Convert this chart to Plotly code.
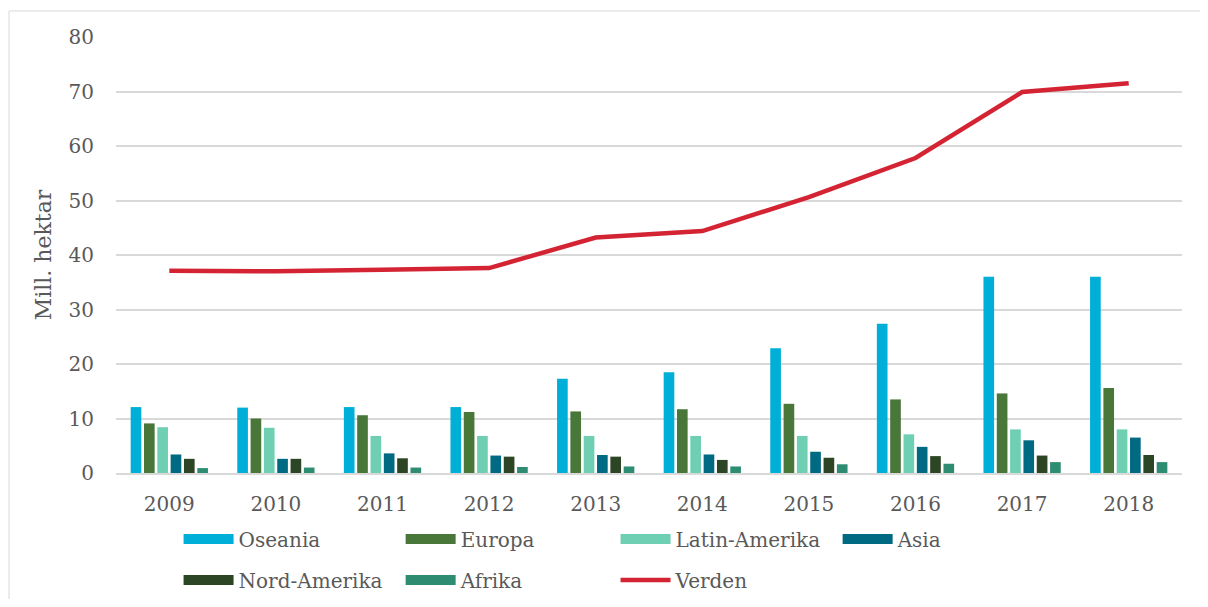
import plotly.graph_objects as go

years = ["2009", "2010", "2011", "2012", "2013", "2014", "2015", "2016", "2017", "2018"]
oseania = [12.1, 12.0, 12.1, 12.1, 17.3, 18.5, 22.9, 27.4, 36.0, 36.0]
europa = [9.1, 10.0, 10.6, 11.2, 11.3, 11.7, 12.7, 13.5, 14.6, 15.6]
latin_amerika = [8.4, 8.3, 6.8, 6.8, 6.8, 6.8, 6.8, 7.1, 8.0, 8.0]
asia = [3.4, 2.6, 3.6, 3.2, 3.3, 3.4, 3.9, 4.8, 6.0, 6.5]
nord_amerika = [2.6, 2.6, 2.7, 3.0, 3.0, 2.4, 2.8, 3.1, 3.2, 3.3]
afrika = [0.9, 1.0, 1.0, 1.1, 1.2, 1.2, 1.6, 1.7, 2.0, 2.0]
verden = [37.1, 37.0, 37.3, 37.6, 43.2, 44.4, 50.6, 57.8, 69.9, 71.5]

FONT = "DejaVu Serif"
TXT = "#595959"

bar_series = [
    ("Oseania", oseania, "#00AFD7"),
    ("Europa", europa, "#49773A"),
    ("Latin-Amerika", latin_amerika, "#6FCFB3"),
    ("Asia", asia, "#006A82"),
    ("Nord-Amerika", nord_amerika, "#2C4524"),
    ("Afrika", afrika, "#2D8C71"),
]

# legend placement (container coords) per series
R1, R2 = 0.1015, 0.0321
C1, C2, C3, C4 = 0.1431, 0.3294, 0.5097, 0.6960
leg_pos = {
    "Oseania": (C1, R1),
    "Europa": (C2, R1),
    "Latin-Amerika": (C3, R1),
    "Asia": (C4, R1),
    "Nord-Amerika": (C1, R2),
    "Afrika": (C2, R2),
    "Verden": (C3, R2),
}

fig = go.Figure()
legend_names = {}
for i, (name, vals, col) in enumerate(bar_series):
    lg = "legend" if i == 0 else f"legend{i+1}"
    legend_names[name] = lg
    fig.add_trace(go.Bar(x=years, y=vals, name=name, marker_color=col,
                         marker_line_width=0, showlegend=False, legendgroup=name))
    # legend swatch as a thick line
    fig.add_trace(go.Scatter(x=[None], y=[None], mode="lines", name=name,
                             line=dict(color=col, width=15), legend=lg,
                             legendgroup=name, showlegend=True))

legend_names["Verden"] = "legend7"
fig.add_trace(go.Scatter(x=years, y=verden, mode="lines", name="Verden",
                         line=dict(color="#D42433", width=4.5), legend="legend7"))

legend_layouts = {}
for name, lg in legend_names.items():
    x, y = leg_pos[name]
    legend_layouts[lg] = dict(x=x, y=y, xref="container", yref="container",
                              xanchor="left", yanchor="middle",
                              orientation="h", bgcolor="rgba(0,0,0,0)",
                              font=dict(family=FONT, size=20, color=TXT),
                              itemwidth=50, tracegroupgap=0)

bx0 = (9 - 116) / 1066
by1 = (473 - 11) / 436
fig.update_layout(
    width=1192, height=591,
    margin=dict(l=108, r=18, t=29, b=126),
    paper_bgcolor="white", plot_bgcolor="white",
    barmode="group", bargap=0.25, bargroupgap=0.2,
    font=dict(family=FONT, color=TXT),
    xaxis=dict(type="category", showgrid=False, showline=True, linecolor="#D9D9D9",
               linewidth=2, ticks="", tickfont=dict(family=FONT, size=20, color=TXT),
               ticklabelstandoff=12, automargin=False),
    yaxis=dict(range=[0, 80], dtick=10, showgrid=True, gridcolor="#D9D9D9", gridwidth=1.5,
               zeroline=False, ticks="", tickfont=dict(family=FONT, size=20, color=TXT),
               ticklabelstandoff=21, automargin=False,
               title=dict(text="Mill. hektar", font=dict(family=FONT, size=22, color=TXT),
                          standoff=10)),
    shapes=[
        dict(type="line", xref="paper", yref="paper", x0=bx0, x1=1.2, y0=by1, y1=by1,
             line=dict(color="#D9D9D9", width=1), layer="below"),
        dict(type="line", xref="paper", yref="paper", x0=bx0, x1=bx0, y0=by1, y1=-0.5,
             line=dict(color="#D9D9D9", width=1), layer="below"),
    ],
    **legend_layouts,
)

fig.write_html("out.html")
